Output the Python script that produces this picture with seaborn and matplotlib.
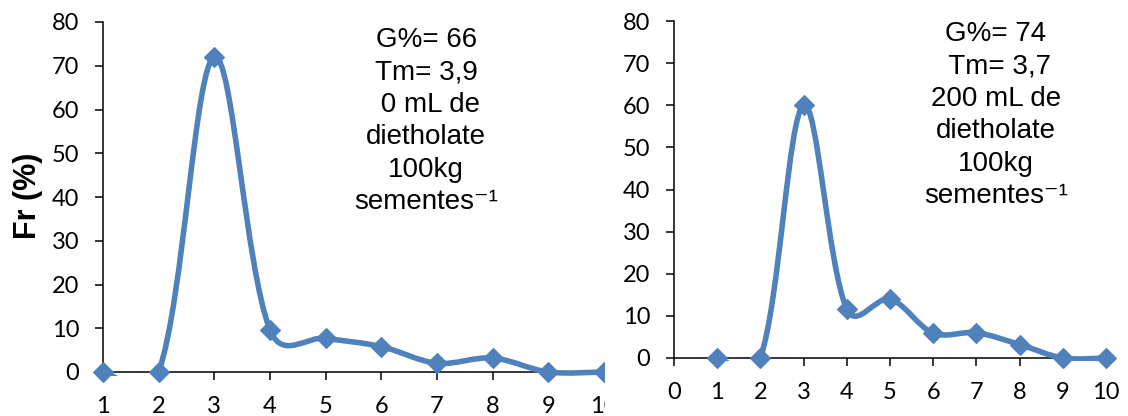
import numpy as np
import matplotlib
matplotlib.use("Agg")
import matplotlib.pyplot as plt
from matplotlib.path import Path
from matplotlib.patches import PathPatch, Rectangle
import pandas as pd
import seaborn as sns

# germination days and relative frequency (%)
days = [1, 2, 3, 4, 5, 6, 7, 8, 9, 10]
fr_0ml = [0, 0, 72, 9.6, 7.7, 5.8, 2.0, 3.2, 0, 0]
fr_200ml = [0, 0, 60, 11.6, 14, 5.9, 6.0, 3.2, 0, 0]
y_ticks = [0, 10, 20, 30, 40, 50, 60, 70, 80]
note_0ml = "G%= 66\nTm= 3,9\n 0 mL de\ndietholate\n100kg\nsementes\u207b\u00b9"
note_200ml = "G%= 74\n Tm= 3,7\n200 mL de\ndietholate\n100kg\nsementes\u207b\u00b9"

BLUE = "#4F81BD"

sns.set_theme(style="white")
plt.rcParams["font.family"] = ["Lato", "DejaVu Sans"]


def smooth_path(ax, xs, ys):
    # excel-like smoothed line: cubic bezier through the points (screen space)
    pts = ax.transData.transform(np.column_stack([xs, ys]))
    n = len(pts)

    def factor(a, b, c):
        l1 = np.hypot(*(b - a))
        l2 = np.hypot(*(c - b))
        if l1 == 0 or l2 == 0:
            return 1 / 6
        return 0.5 / 6 + 0.5 / 3 * l2 / (l1 + l2)

    verts = [pts[0]]
    codes = [Path.MOVETO]
    for i in range(n - 1):
        p0 = pts[max(i - 1, 0)]
        p1 = pts[i]
        p2 = pts[i + 1]
        p3 = pts[min(i + 2, n - 1)]
        c1 = p1 + (p2 - p0) * factor(p0, p1, p2)
        c2 = p2 - (p3 - p1) * factor(p3, p2, p1)
        verts += [c1, c2, p2]
        codes += [Path.CURVE4] * 3
    verts = ax.transData.inverted().transform(np.array(verts))
    return Path(verts, codes)


def draw_panel(ax, y, xlim, xticks, note, note_x, note_y):
    ax.set_xlim(*xlim)
    ax.set_ylim(0, 80)
    ax.set_xticks(xticks)
    ax.set_yticks(y_ticks)
    for side in ["top", "right"]:
        ax.spines[side].set_visible(False)
    for side in ["left", "bottom"]:
        ax.spines[side].set_color("black")
        ax.spines[side].set_linewidth(1.1)
    ax.tick_params(axis="y", left=True, direction="out", length=6, width=1.1,
                   pad=11, labelsize=17, colors="black")
    ax.tick_params(axis="x", bottom=True, direction="out", length=6, width=1.1,
                   pad=11, labelsize=17, colors="black")

    patch = PathPatch(smooth_path(ax, days, y), facecolor="none", edgecolor=BLUE,
                      lw=4, zorder=3, capstyle="round", joinstyle="round")
    ax.add_patch(patch)
    clip = Rectangle((-0.02, -0.01), 1.04, 1.02, transform=ax.transAxes)
    patch.set_clip_path(clip)

    df = pd.DataFrame({"dia": days, "fr": y})
    sns.scatterplot(data=df, x="dia", y="fr", marker="D", s=100, color=BLUE,
                    edgecolor=BLUE, linewidth=1, zorder=4, clip_on=False,
                    legend=False, ax=ax)
    ax.set_xlabel("")
    ax.set_ylabel("")

    ax.text(note_x, note_y, note, transform=ax.transAxes, ha="center", va="top",
            multialignment="center", fontsize=20,
            family=["Liberation Sans", "DejaVu Sans"],
            linespacing=1.32, color="black")


fig = plt.figure(figsize=(11.28, 4.16), dpi=100)
W, H = 1128, 416

ax1 = fig.add_axes([103 / W, 1 - 372 / H, (604 - 103) / W, (372 - 22) / H])
ax1.set_zorder(0)
draw_panel(ax1, fr_0ml, (1, 10), days, note_0ml, 0.645, 0.985)

# white area of the second chart covering the first one
fig.patches.append(Rectangle((605 / W, 0), 1 - 605 / W, 1, transform=fig.transFigure,
                             facecolor="white", edgecolor="none", zorder=0.5))

ax2 = fig.add_axes([674 / W, 1 - 358 / H, (1106 - 674) / W, (358 - 21) / H])
ax2.set_zorder(1)
draw_panel(ax2, fr_200ml, (0, 10), [0] + days, note_200ml, 0.745, 1.0)

fig.text(28 / W, 1 - 196 / H, "Fr (%)", rotation=90, ha="center", va="center",
         fontsize=22, fontweight="bold", family="Liberation Sans", color="black")

fig.savefig("out.png", dpi=100)
